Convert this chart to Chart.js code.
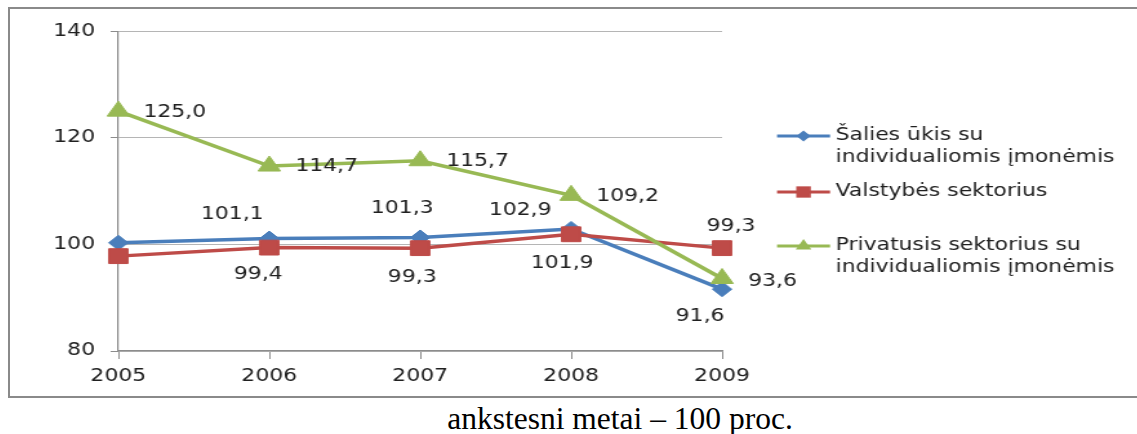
<!DOCTYPE html>
<html>
<head>
<meta charset="utf-8">
<script src="https://cdn.jsdelivr.net/npm/chart.js@4.4.0/dist/chart.umd.min.js"></script>
<style>
html,body{margin:0;padding:0;background:#fff;width:1137px;height:434px;overflow:hidden;}
#box{position:absolute;left:8px;top:7px;width:1140px;height:387px;border:2px solid #8a8a8a;border-right:none;}
#wrap{position:absolute;left:10px;top:9px;width:870px;height:386px;transform:scaleX(1.29);transform-origin:0 0;}
#caption{position:absolute;left:0;top:403px;width:1240px;text-align:center;font-family:"Liberation Serif","Times New Roman",serif;font-size:31.5px;line-height:31px;color:#000;white-space:nowrap;}
</style>
</head>
<body>
<div id="box"></div>
<div id="wrap"><canvas id="c" width="870" height="386"></canvas></div>
<div id="caption">ankstesni metai – 100 proc.</div>
<script>
// ---- data ----
const years = ['2005', '2006', '2007', '2008', '2009'];
const saliesUkis = [100.3, 101.1, 101.3, 102.9, 91.6];
const valstybesSektorius = [97.8, 99.4, 99.3, 101.9, 99.3];
const privatusSektorius = [125.0, 114.7, 115.7, 109.2, 93.6];
const yTickValues = [80, 100, 120, 140];
const seriesNames = [
  ['Šalies ūkis su', 'individualiomis įmonėmis'],
  ['Valstybės sektorius'],
  ['Privatusis sektorius su', 'individualiomis įmonėmis']
];

// ---- styling ----
const SX = 1.29;
const FONT = '"DejaVu Sans", Verdana, sans-serif';
const TXT = '#202020';
const colors = ['#4a7ebb', '#be4b48', '#98b954'];
const styles = ['rectRot', 'rect', 'triangle'];
const radii = [7.5, 10.5, 10];
// label offsets (final px) relative to point, null = no label
const labelPos = [
  [null, [-37, -24], [-18, -29], [-51, -18], [-22, 27]],
  [null, [-11, 27], [-8, 29], [-9, 29], [9, -22]],
  [[25, 1], [26, 1], [26, 1], [25, 1], [26, 3]]
];
const labelAlign = ['center', 'center', 'left'];
const legendY = [127, 183, 237];

const fmt = v => v.toFixed(1).replace('.', ',');

const labelPlugin = {
  id: 'valueLabels',
  afterDatasetsDraw(chart) {
    const ctx = chart.ctx;
    ctx.save();
    ctx.font = '17px ' + FONT;
    ctx.fillStyle = TXT;
    ctx.textBaseline = 'middle';
    chart.data.datasets.forEach((ds, di) => {
      const meta = chart.getDatasetMeta(di);
      meta.data.forEach((el, i) => {
        const p = labelPos[di][i];
        if (!p) return;
        ctx.textAlign = labelAlign[di];
        ctx.fillText(fmt(ds.data[i]), el.x + p[0] / SX, el.y + p[1]);
      });
    });
    ctx.restore();
  }
};

function marker(ctx, style, x, y, r) {
  ctx.beginPath();
  if (style === 'rectRot') {
    ctx.moveTo(x, y - r); ctx.lineTo(x + r, y); ctx.lineTo(x, y + r); ctx.lineTo(x - r, y);
  } else if (style === 'rect') {
    const h = r * Math.SQRT1_2;
    ctx.rect(x - h, y - h, 2 * h, 2 * h);
  } else {
    ctx.moveTo(x, y - r); ctx.lineTo(x + r * 0.866, y + r / 2); ctx.lineTo(x - r * 0.866, y + r / 2);
  }
  ctx.closePath();
  ctx.fill();
}

const legendPlugin = {
  id: 'customLegend',
  afterDraw(chart) {
    const ctx = chart.ctx;
    ctx.save();
    ctx.font = '17px ' + FONT;
    ctx.textAlign = 'left';
    ctx.textBaseline = 'middle';
    const x0 = 594.6, x1 = 635.7, tx = 640;
    seriesNames.forEach((lines, i) => {
      const y = legendY[i];
      ctx.strokeStyle = colors[i];
      ctx.fillStyle = colors[i];
      ctx.lineWidth = 3;
      ctx.beginPath(); ctx.moveTo(x0, y); ctx.lineTo(x1, y); ctx.stroke();
      marker(ctx, styles[i], (x0 + x1) / 2, y, [5.5, 8, 7][i]);
      ctx.fillStyle = TXT;
      lines.forEach((t, k) => ctx.fillText(t, tx, y + k * 21.5));
    });
    ctx.restore();
  }
};

const seriesData = [saliesUkis, valstybesSektorius, privatusSektorius];
const datasets = seriesData.map((d, i) => ({
  label: seriesNames[i].join(' '),
  data: d,
  borderColor: colors[i],
  backgroundColor: colors[i],
  borderWidth: 3.5,
  tension: 0,
  pointStyle: styles[i],
  pointRadius: radii[i],
  pointBackgroundColor: colors[i],
  pointBorderColor: colors[i],
  pointBorderWidth: 1,
  order: 2 - i
}));

new Chart(document.getElementById('c'), {
  type: 'line',
  data: { labels: years, datasets },
  options: {
    responsive: false,
    animation: false,
    devicePixelRatio: 1,
    layout: { padding: { left: 0, right: 318, top: 19, bottom: 4 } },
    plugins: { legend: { display: false }, tooltip: { enabled: false } },
    scales: {
      x: {
        offset: false,
        grid: { drawOnChartArea: false, drawTicks: true, tickLength: 8, tickColor: '#8c8c8c', lineWidth: 1 },
        border: { color: '#8c8c8c', width: 1.2 },
        ticks: { color: TXT, font: { family: FONT, size: 17 }, padding: 7, maxRotation: 0 },
        afterFit: s => { s.height = 40; }
      },
      y: {
        min: 80, max: 140,
        afterBuildTicks: s => { s.ticks = yTickValues.map(v => ({ value: v })); },
        grid: { drawOnChartArea: true, color: '#b5b5b5', tickLength: 6, tickColor: '#8c8c8c', lineWidth: 1 },
        border: { color: '#8c8c8c', width: 1.2 },
        ticks: { color: TXT, font: { family: FONT, size: 17 }, padding: 12 },
        afterFit: s => { s.width = 84; }
      }
    }
  },
  plugins: [labelPlugin, legendPlugin]
});
</script>
</body>
</html>
